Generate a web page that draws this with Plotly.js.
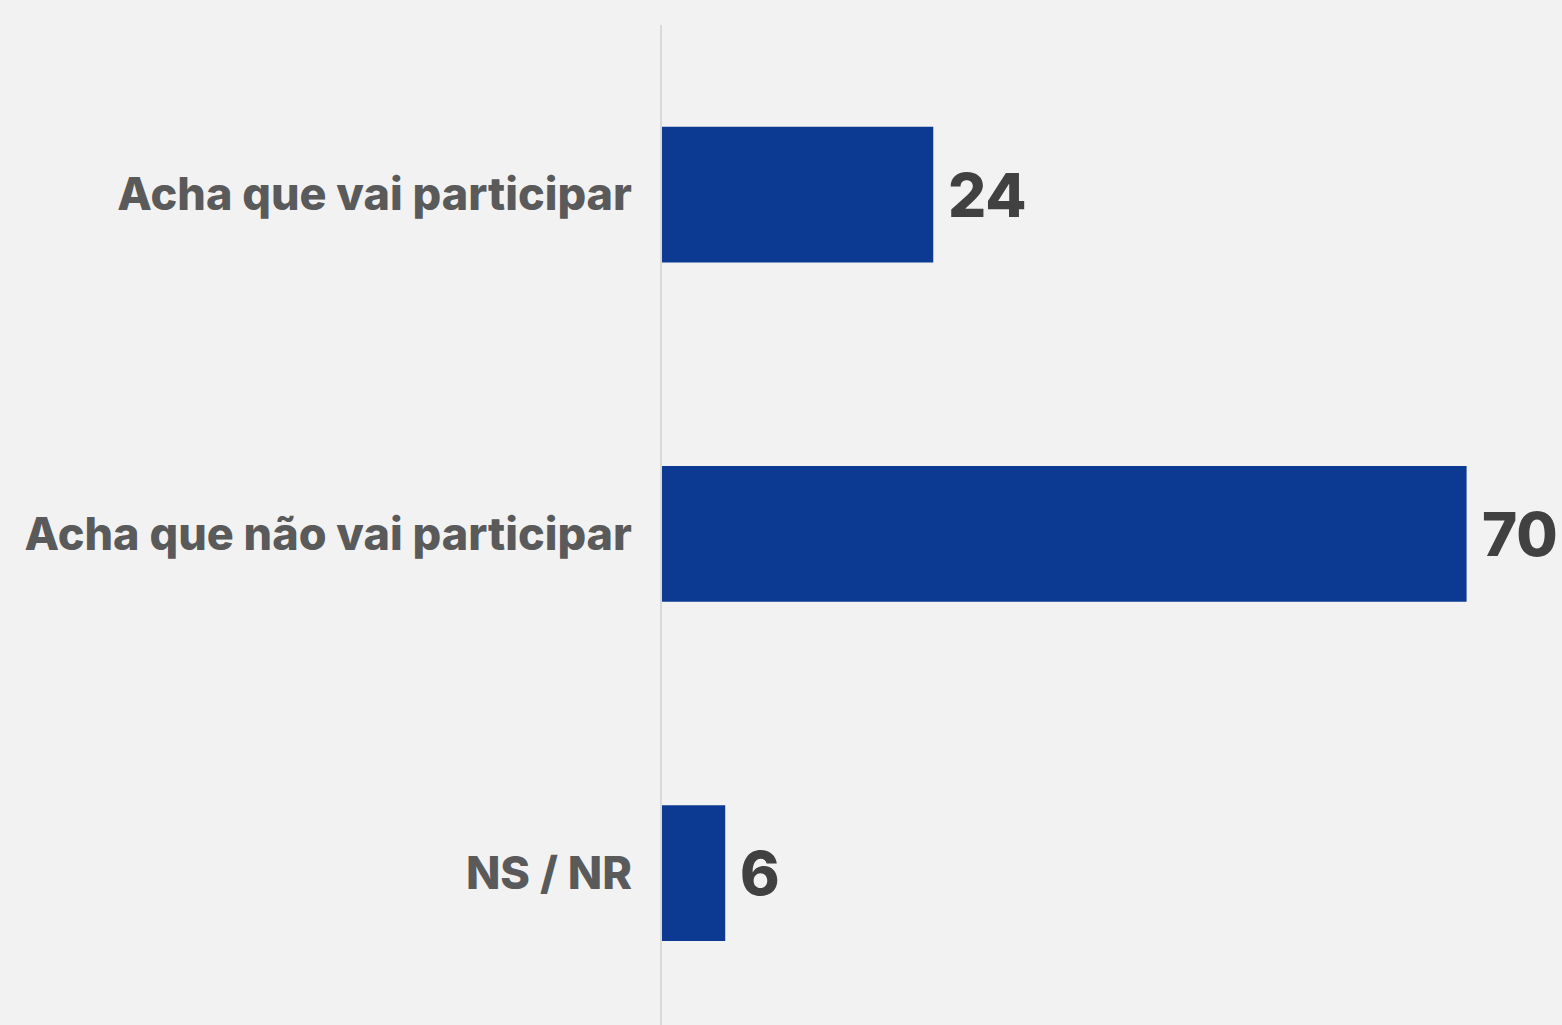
<!DOCTYPE html>
<html>
<head>
<meta charset="utf-8">
<script src="https://cdn.plot.ly/plotly-3.0.1.min.js"></script>
<style>
  html, body { margin: 0; padding: 0; background: #f2f2f2; }
  #chart { width: 1562px; height: 1025px; }
</style>
</head>
<body>
<div id="chart"></div>
<script>
// categories top to bottom
const categories = ["Acha que vai participar", "Acha que não vai participar", "NS / NR"];
// bar lengths, labels as printed
const values = [23.6, 70, 5.5];
const valueLabels = ["24", "70", "6"];

const barColor = "#0c3a92";

const trace = {
    type: "bar",
    orientation: "h",
    x: values,
    y: categories,
    marker: { color: barColor },
    hoverinfo: "none"
};

const annotations = categories.map((c, i) => ({
    x: values[i],
    y: c,
    xref: "x",
    yref: "y",
    text: valueLabels[i],
    showarrow: false,
    xanchor: "left",
    yanchor: "middle",
    xshift: 13,
    font: { family: "Inter, Roboto, sans-serif", size: 60, weight: 800, color: "#414141" }
}));

const layout = {
    width: 1562,
    height: 1025,
    paper_bgcolor: "#f2f2f2",
    plot_bgcolor: "#f2f2f2",
    margin: { l: 662, r: 0, t: 25, b: 0 },
    bargap: 0.6,
    showlegend: false,
    xaxis: {
        range: [0, 78.3],
        showgrid: false,
        zeroline: false,
        showticklabels: false,
        fixedrange: true
    },
    yaxis: {
        type: "category",
        range: [2.448, -0.5],
        showgrid: false,
        zeroline: false,
        showline: true,
        linecolor: "#d9d9d9",
        linewidth: 2,
        ticks: "",
        ticklabelstandoff: 19,
        tickfont: { family: "Inter, Roboto, sans-serif", size: 45, weight: 800, color: "#5a5a5a" },
        fixedrange: true
    },
    annotations: annotations
};

Plotly.newPlot("chart", [trace], layout, { displayModeBar: false, staticPlot: true });
</script>
</body>
</html>
